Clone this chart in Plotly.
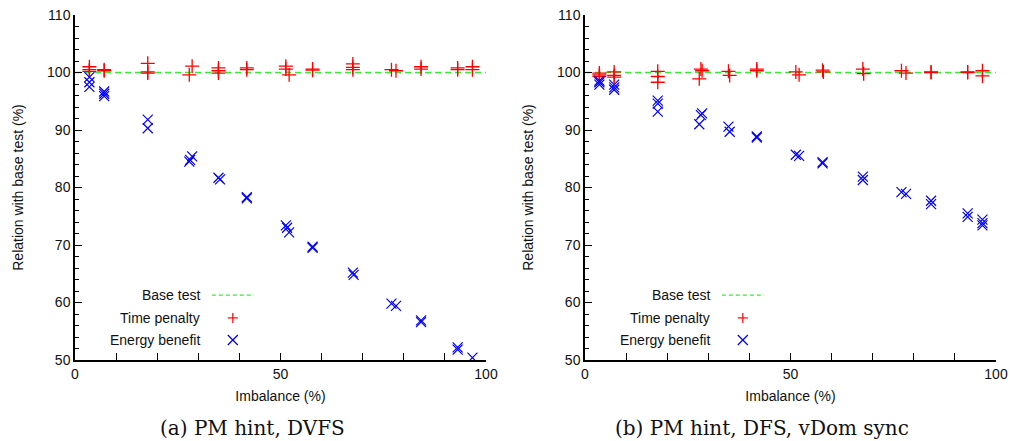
import plotly.graph_objects as go
from plotly.subplots import make_subplots

# (a) PM hint, DVFS
time_x_a = [3.5, 3.5, 3.5, 7.1, 7.1, 17.7, 17.7, 17.7, 27.8, 28.5, 34.9, 34.9, 34.9,
            41.8, 41.8, 51.3, 52.1, 51.3, 57.8, 57.8, 67.6, 67.6, 67.6, 77.0, 78.1,
            84.2, 84.2, 93.1, 93.1, 96.7, 96.7]
time_y_a = [101.0, 100.5, 100.2, 100.5, 100.3, 101.6, 100.1, 99.9, 99.6, 101.1, 100.8, 100.3, 99.9,
            100.8, 100.5, 101.1, 99.6, 100.6, 100.6, 100.4, 101.5, 100.9, 100.5, 100.5, 100.3,
            101.0, 100.6, 100.8, 100.5, 101.0, 100.5]
energy_x_a = [3.5, 3.5, 3.5, 7.1, 7.1, 7.1, 17.7, 17.7, 27.8, 28.5, 28.0, 34.9, 35.3,
              41.8, 41.8, 51.3, 52.1, 51.6, 57.8, 57.8, 67.6, 67.8, 77.0, 78.1,
              84.2, 84.2, 93.1, 93.1, 96.7]
energy_y_a = [99.2, 98.3, 97.5, 96.7, 96.3, 95.9, 91.8, 90.3, 84.5, 85.4, 84.8, 81.7, 81.4,
              78.3, 78.1, 73.4, 72.2, 73.0, 69.7, 69.5, 65.2, 64.8, 59.8, 59.4,
              56.9, 56.6, 52.2, 51.8, 50.4]

# (b) PM hint, DFS, vDom sync
time_x_b = [3.5, 3.5, 3.5, 7.1, 7.1, 7.1, 17.7, 17.7, 17.7, 28.2, 28.5, 27.8, 34.9, 35.2,
            41.8, 41.8, 51.3, 52.1, 57.8, 58.0, 67.6, 67.8, 77.0, 78.1, 84.2, 84.2,
            93.1, 93.1, 96.7, 96.7]
time_y_b = [99.9, 99.6, 99.3, 100.1, 99.5, 99.2, 100.2, 99.3, 98.3, 100.6, 100.3, 98.9, 100.2, 99.5,
            100.6, 100.3, 100.1, 99.6, 100.4, 100.1, 100.6, 99.8, 100.3, 99.9, 100.1, 100.0,
            100.1, 100.0, 100.3, 99.4]
energy_x_b = [3.5, 3.5, 3.5, 7.1, 7.1, 7.1, 17.7, 17.7, 17.7, 28.5, 28.2, 27.8, 34.9, 35.2,
              41.8, 41.8, 51.3, 52.1, 57.8, 57.8, 67.6, 67.6, 77.0, 78.1, 84.2, 84.2,
              93.1, 93.1, 96.7, 96.7, 96.7]
energy_y_b = [98.6, 98.3, 97.9, 97.9, 97.4, 97.0, 95.1, 94.6, 93.2, 92.9, 92.6, 91.0, 90.6, 89.7,
              88.9, 88.7, 85.7, 85.5, 84.4, 84.2, 81.9, 81.3, 79.2, 78.9, 77.7, 77.1,
              75.5, 74.9, 74.4, 73.8, 73.4]

base_x = [0, 100]
base_y = [100, 100]

captions = ["(a) PM hint, DVFS", "(b) PM hint, DFS, vDom sync"]
legend_labels = ["Base test", "Time penalty", "Energy benefit"]

RED = "#ff0000"
BLUE = "#0000ff"
GREEN = "#33ee33"
W, H = 1011, 441

fig = make_subplots(rows=1, cols=2)

panels = [
    (time_x_a, time_y_a, energy_x_a, energy_y_a),
    (time_x_b, time_y_b, energy_x_b, energy_y_b),
]
for i, (tx, ty, ex, ey) in enumerate(panels, start=1):
    fig.add_trace(go.Scatter(x=base_x, y=base_y, mode="lines",
                             line=dict(color=GREEN, width=1.5, dash="6px,4px"),
                             showlegend=False), row=1, col=i)
    fig.add_trace(go.Scatter(x=tx, y=ty, mode="markers",
                             marker=dict(symbol="cross-thin", size=10, color=RED,
                                         line=dict(color=RED, width=1.3)),
                             showlegend=False), row=1, col=i)
    fig.add_trace(go.Scatter(x=ex, y=ey, mode="markers",
                             marker=dict(symbol="x-thin", size=10, color=BLUE,
                                         line=dict(color=BLUE, width=1.2)),
                             showlegend=False), row=1, col=i)

# plot areas in pixels
x_dom = [(75, 486), (585, 996)]
caption_cx = [252, 762]
y_top, y_bot = 15, 360
yd = [(H - y_bot) / H, (H - y_top) / H]

axis_font = dict(family="Liberation Sans", size=14, color="#111")
for i, (x0, x1) in enumerate(x_dom, start=1):
    xa = "xaxis" if i == 1 else f"xaxis{i}"
    ya = "yaxis" if i == 1 else f"yaxis{i}"
    fig.layout[xa].update(
        domain=[x0 / W, x1 / W], range=[0, 100], dtick=50, tick0=0, automargin=False,
        showline=True, linecolor="black", linewidth=1.5, mirror=False,
        ticks="inside", ticklen=7, tickwidth=1, tickcolor="black",
        minor=dict(dtick=10, ticks="inside", ticklen=7, tickcolor="black", tickwidth=1),
        showgrid=False, zeroline=False, tickfont=axis_font,
        title=dict(text="Imbalance (%)", font=axis_font, standoff=11),
    )
    fig.layout[ya].update(
        domain=yd, range=[50, 110], dtick=10, tick0=50, automargin=False,
        showline=True, linecolor="black", linewidth=1.5, mirror=False,
        ticks="inside", ticklen=7, tickwidth=1, tickcolor="black",
        minor=dict(dtick=2, ticks="inside", ticklen=4, tickcolor="black", tickwidth=1),
        showgrid=False, zeroline=False, tickfont=axis_font,
        title=dict(text="Relation with base test (%)", font=axis_font, standoff=20),
    )


def glyph(xref, yref, cx, cy, strokes, color):
    """Small legend glyph built from pixel-sized strokes around (cx, cy)."""
    out = []
    for (ax, ay, bx, by) in strokes:
        out.append(dict(type="line", xref=xref, yref=yref,
                        xsizemode="pixel", ysizemode="pixel",
                        xanchor=cx, yanchor=cy, x0=ax, y0=ay, x1=bx, y1=by,
                        line=dict(color=color, width=1.2)))
    return out


PLUS = [(-5, 0, 5, 0), (0, -5, 0, 5)]
CROSS = [(-5, -5, 5, 5), (-5, 5, 5, -5)]

annotations = []
shapes = []
for i, (x0, x1) in enumerate(x_dom, start=1):
    xref = "x domain" if i == 1 else f"x{i} domain"
    yref = "y domain" if i == 1 else f"y{i} domain"
    rows_y = [0.188, 0.122, 0.058]
    for lab, yy in zip(legend_labels, rows_y):
        annotations.append(dict(xref=xref, yref=yref, x=0.309, y=yy, text=lab,
                                showarrow=False, xanchor="right", yanchor="middle",
                                font=axis_font))
    shapes.append(dict(type="line", xref=xref, yref=yref, x0=0.333, x1=0.436,
                       y0=rows_y[0], y1=rows_y[0],
                       line=dict(color=GREEN, width=1.2, dash="4px,3px")))
    shapes += glyph(xref, yref, 0.384, rows_y[1], PLUS, RED)
    shapes += glyph(xref, yref, 0.384, rows_y[2], CROSS, BLUE)
    annotations.append(dict(xref="paper", yref="paper",
                            x=caption_cx[i - 1] / W, y=(H - 428) / H, text=captions[i - 1],
                            showarrow=False, xanchor="center", yanchor="middle",
                            font=dict(family="DejaVu Serif", size=20, color="#111")))

fig.update_layout(
    width=W, height=H, margin=dict(l=0, r=0, t=0, b=0, autoexpand=False),
    paper_bgcolor="white", plot_bgcolor="white",
    annotations=annotations, shapes=shapes, showlegend=False,
)

fig.write_html("out.html")
